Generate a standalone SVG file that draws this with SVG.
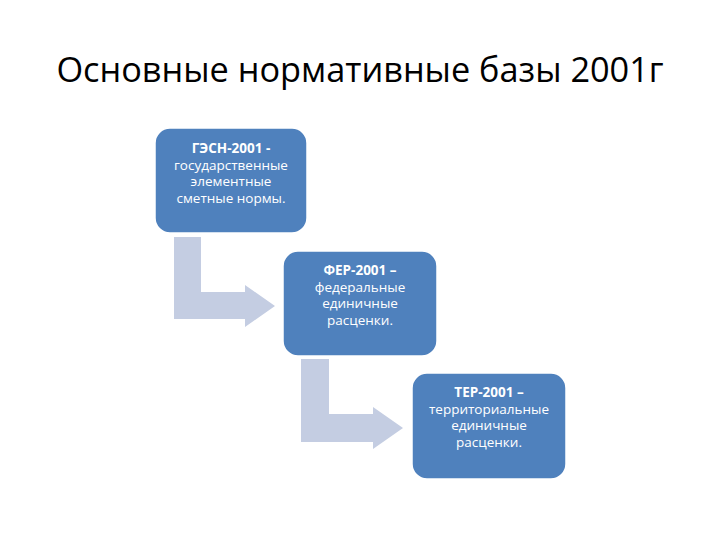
<svg xmlns="http://www.w3.org/2000/svg" width="720" height="540" viewBox="0 0 720 540">
<style>
.title{font-family:"Open Sans","Liberation Sans",sans-serif;font-size:34.3px;fill:#000;text-anchor:middle}
.box{fill:#4F81BD;stroke:#ffffff;stroke-width:1.5}
.t{font-family:"Open Sans","Liberation Sans",sans-serif;font-size:13.5px;fill:#fff;text-anchor:middle}
.b{font-weight:bold}
.arr{fill:#C4CDE2}
</style>
<rect width="720" height="540" fill="#fff"/>
<text class="title" x="360" y="82">Основные нормативные базы 2001г</text>
<g id="connectors">
<path class="arr" d="M174,237 H201 V292 H245 V285 L275,306 L245,327 V319 H174 Z"/>
<path class="arr" d="M301,359 H329 V414 H373 V407 L403,428 L373,449 V442 H301 Z"/>
</g>
<g id="node1">
<rect class="box" x="155" y="128" width="152" height="105" rx="15"/>
<text class="t b" x="231" y="153">ГЭСН-2001 -</text>
<text class="t" x="231" y="169.5">государственные</text>
<text class="t" x="231" y="186">элементные</text>
<text class="t" x="231" y="202.5">сметные нормы.</text>
</g>
<g id="node2">
<rect class="box" x="283" y="251" width="154" height="105" rx="15"/>
<text class="t b" x="360" y="275">ФЕР-2001 –</text>
<text class="t" x="360" y="291.5">федеральные</text>
<text class="t" x="360" y="308">единичные</text>
<text class="t" x="360" y="324.5">расценки.</text>
</g>
<g id="node3">
<rect class="box" x="412" y="373" width="154" height="106" rx="15"/>
<text class="t b" x="489" y="397">ТЕР-2001 –</text>
<text class="t" x="489" y="413.5">территориальные</text>
<text class="t" x="489" y="430">единичные</text>
<text class="t" x="489" y="446.5">расценки.</text>
</g>
</svg>
